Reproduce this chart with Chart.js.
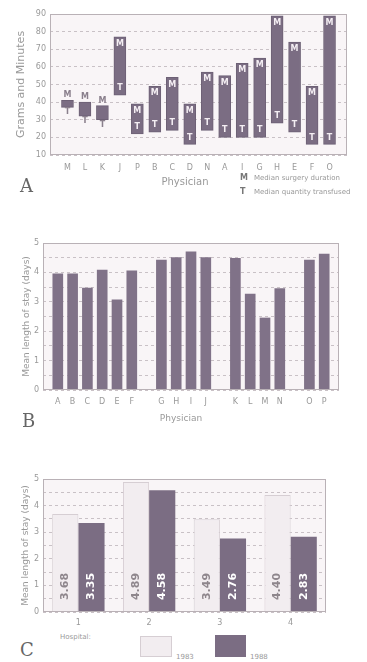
<!DOCTYPE html>
<html>
<head>
<meta charset="utf-8">
<title>Surgery and length of stay by physician</title>
<script src="https://cdn.jsdelivr.net/npm/chart.js@4.4.1/dist/chart.umd.min.js"></script>
<style>
  body { margin: 0; background: #fff; width: 367px; height: 662px; position: relative; overflow: hidden; font-family: "DejaVu Sans", sans-serif; }
  canvas { position: absolute; left: 0; }
  .tag { position: absolute; font-family: "DejaVu Serif", serif; font-size: 18px; color: #666; line-height: 1; }
  .note { position: absolute; font-size: 7px; color: #999; white-space: nowrap; line-height: 1; }
  .note b { color: #777; display: inline-block; width: 14px; font-size: 8px; }
  .axis { position: absolute; color: #999; white-space: nowrap; line-height: 1; transform: translateX(-50%); }
  .swatch { position: absolute; box-sizing: border-box; }
</style>
</head>
<body>
<canvas id="chartA" width="367" height="188" style="top:0"></canvas>
<canvas id="chartB" width="367" height="198" style="top:225px"></canvas>
<canvas id="chartC" width="367" height="165" style="top:465px"></canvas>

<div class="tag" style="left:20px;top:177px">A</div>
<div class="axis" style="left:185px;top:177px;font-size:10px">Physician</div>
<div class="note" style="left:240px;top:174px"><b>M</b>Median surgery duration</div>
<div class="note" style="left:240px;top:188px"><b>T</b>Median quantity transfused</div>
<div class="tag" style="left:22px;top:412px">B</div>
<div class="axis" style="left:181px;top:414px;font-size:9px">Physician</div>
<div class="tag" style="left:20px;top:641px">C</div>
<div class="note" style="left:60px;top:634px">Hospital:</div>
<div class="swatch" style="left:140px;top:636px;width:32px;height:21px;background:#f2edf0;border:1px solid #d6ced3"></div>
<div class="note" style="left:176px;top:654px">1983</div>
<div class="swatch" style="left:215px;top:635px;width:31px;height:22px;background:#7b6d83"></div>
<div class="note" style="left:250px;top:654px">1988</div>

<script>
Chart.defaults.font.family = '"DejaVu Sans", sans-serif';
Chart.defaults.color = '#999';
Chart.defaults.animation = false;

// panel A: bottom (T) and top (M) of each physician's bar
var physiciansA = ["M","L","K","J","P","B","C","D","N","A","I","G","H","E","F","O"];
var transfusedA = [37, 32, 30, 44, 22, 23, 24, 16, 24, 20, 20, 20, 28, 23, 16, 16];
var surgeryA = [41, 40, 38, 77, 39, 49, 54, 39, 57, 55, 62, 65, 89, 74, 49, 89];
var ticksA = [10, 20, 30, 40, 50, 60, 70, 80, 90];

// panel B: mean length of stay, physicians in four groups
var physiciansB = ["A","B","C","D","E","F","G","H","I","J","K","L","M","N","O","P"];
var stayB = [3.95, 3.95, 3.47, 4.08, 3.07, 4.05, 4.42, 4.50, 4.70, 4.50, 4.48, 3.26, 2.45, 3.45, 4.42, 4.62];
var groupEndsB = ["F", "J", "N"];
var ticksB = [0, 1, 2, 3, 4, 5];

// panel C: mean length of stay by hospital
var hospitals = ["1", "2", "3", "4"];
var stay1983 = [3.68, 4.89, 3.49, 4.40];
var stay1988 = [3.35, 4.58, 2.76, 2.83];

var dark = '#7b6d83';
var light = '#f2edf0';

// plot background + frame
var frame = {
  id: 'frame',
  beforeDraw: function(chart) {
    var a = chart.chartArea, c = chart.ctx;
    c.save();
    c.fillStyle = '#f9f5f7';
    c.fillRect(a.left, a.top, a.right - a.left, a.bottom - a.top);
    c.restore();
  },
  afterDraw: function(chart) {
    var a = chart.chartArea, c = chart.ctx;
    c.save();
    c.strokeStyle = '#b9b1b6';
    c.lineWidth = 1;
    c.strokeRect(a.left + 0.5, a.top + 0.5, a.right - a.left - 1, a.bottom - a.top - 1);
    c.restore();
  }
};

// M and T letters on the floating bars
var markLetters = {
  id: 'markLetters',
  afterDatasetsDraw: function(chart) {
    var c = chart.ctx;
    var vals = chart.data.datasets[0].data;
    c.save();
    c.font = 'bold 8px "DejaVu Sans"';
    c.textAlign = 'center';
    c.textBaseline = 'middle';
    chart.getDatasetMeta(0).data.forEach(function(bar, i) {
      if (!vals[i]) return;
      var top = Math.min(bar.y, bar.base), bot = Math.max(bar.y, bar.base);
      if (bot - top > 25) {
        c.fillStyle = '#f4eef3';
        c.fillText('M', bar.x, top + 7);
        c.fillText('T', bar.x, bot - 7);
      } else {
        c.fillStyle = '#8a7f8c';
        c.fillText('M', bar.x, top - 5);
        c.fillText('T', bar.x, bot + 5);
      }
    });
    c.restore();
  }
};

// rotated numbers inside the hospital bars
var valueLabels = {
  id: 'valueLabels',
  afterDatasetsDraw: function(chart) {
    var c = chart.ctx;
    chart.data.datasets.forEach(function(ds, d) {
      chart.getDatasetMeta(d).data.forEach(function(bar, i) {
        c.save();
        c.translate(bar.x, bar.base - 25);
        c.rotate(-Math.PI / 2);
        c.font = 'bold 11px "DejaVu Sans"';
        c.fillStyle = d === 0 ? '#8e868c' : '#ffffff';
        c.textAlign = 'center';
        c.textBaseline = 'middle';
        c.fillText(ds.data[i].toFixed(2), 0, 0);
        c.restore();
      });
    });
  }
};

function yScale(min, max, step, width, title, titleSize, titlePad, whole) {
  return {
    min: min, max: max,
    afterFit: function(s) { s.width = width; },
    border: { display: false, dash: [3, 3] },
    grid: { color: '#c9c1c6', drawTicks: false },
    ticks: {
      stepSize: step, padding: 4, font: { size: 8 }, color: '#999',
      callback: function(v) { return (!whole || v % 1 === 0) ? v : ''; }
    },
    title: { display: true, text: title, color: '#999', font: { size: titleSize }, padding: { top: titlePad, bottom: 0 } }
  };
}

function xScale(height, pad, offset) {
  return {
    offset: offset,
    afterFit: function(sc) { sc.height = height; },
    border: { display: false },
    grid: { display: false, drawTicks: false },
    ticks: { autoSkip: false, maxRotation: 0, padding: pad, font: { size: 8 }, color: '#999' }
  };
}

// ---- A ----
var labelsA = [''].concat(physiciansA, ['']);
var barsA = [null].concat(physiciansA.map(function(p, i) { return [transfusedA[i], surgeryA[i]]; }), [null]);

new Chart(document.getElementById('chartA').getContext('2d'), {
  type: 'bar',
  data: {
    labels: labelsA,
    datasets: [{
      label: 'Physician',
      data: barsA,
      backgroundColor: dark,
      borderColor: '#6d6075',
      borderWidth: 1,
      borderSkipped: false,
      barThickness: 12
    }]
  },
  options: {
    responsive: false,
    layout: { padding: { top: 14, right: 20, left: 0, bottom: 0 } },
    plugins: { legend: { display: false }, tooltip: { enabled: false } },
    scales: {
      x: xScale(33, 8, false),
      y: yScale(ticksA[0], ticksA[ticksA.length - 1], 10, 50, 'Grams and Minutes', 11, 15, false)
    }
  },
  plugins: [frame, markLetters]
});

// ---- B ----
var labelsB = [''], barsB = [null];
physiciansB.forEach(function(p, i) {
  labelsB.push(p);
  barsB.push(stayB[i]);
  if (groupEndsB.indexOf(p) >= 0) { labelsB.push(''); barsB.push(null); }
});
labelsB.push(''); barsB.push(null);

new Chart(document.getElementById('chartB').getContext('2d'), {
  type: 'bar',
  data: {
    labels: labelsB,
    datasets: [{
      label: 'Mean length of stay',
      data: barsB,
      backgroundColor: '#807288',
      barThickness: 10
    }]
  },
  options: {
    responsive: false,
    layout: { padding: { top: 18, right: 28, left: 0, bottom: 0 } },
    plugins: { legend: { display: false }, tooltip: { enabled: false } },
    scales: {
      x: xScale(33, 7, false),
      y: yScale(ticksB[0], ticksB[ticksB.length - 1], 0.5, 43, 'Mean length of stay (days)', 9, 21, true)
    }
  },
  plugins: [frame]
});

// ---- C ----
new Chart(document.getElementById('chartC').getContext('2d'), {
  type: 'bar',
  data: {
    labels: hospitals,
    datasets: [{
      label: '1983',
      data: stay1983,
      backgroundColor: light,
      borderColor: '#d6ced3',
      borderWidth: 1,
      categoryPercentage: 0.74,
      barPercentage: 1
    }, {
      label: '1988',
      data: stay1988,
      backgroundColor: dark,
      categoryPercentage: 0.74,
      barPercentage: 1
    }]
  },
  options: {
    responsive: false,
    layout: { padding: { top: 14, right: 41, left: 0, bottom: 0 } },
    plugins: { legend: { display: false }, tooltip: { enabled: false } },
    scales: {
      x: xScale(18, 6, true),
      y: yScale(ticksB[0], ticksB[ticksB.length - 1], 0.5, 43, 'Mean length of stay (days)', 9, 20, true)
    }
  },
  plugins: [frame, valueLabels]
});
</script>
</body>
</html>
